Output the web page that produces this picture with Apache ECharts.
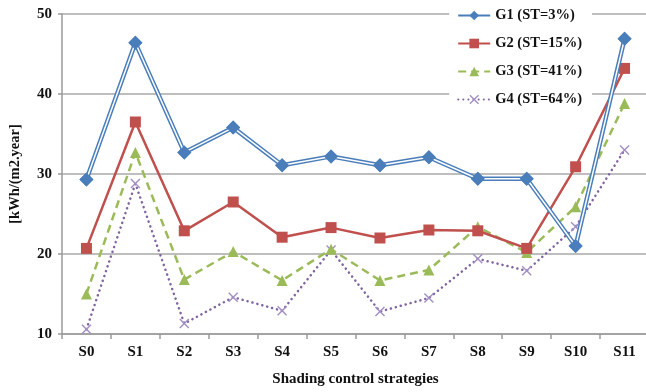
<!DOCTYPE html>
<html><head><meta charset="utf-8">
<script src="https://cdn.jsdelivr.net/npm/echarts@6/dist/echarts.min.js"></script>
<style>html,body{margin:0;padding:0;background:#fff;overflow:hidden;width:646px;height:392px}#c{width:649px;height:392px}</style>
</head><body><div id="c"></div>
<script>
const categories = ['S0','S1','S2','S3','S4','S5','S6','S7','S8','S9','S10','S11'];
const seriesNames = ['G1 (ST=3%)','G2 (ST=15%)','G3 (ST=41%)','G4 (ST=64%)'];
const g1 = [29.3, 46.4, 32.7, 35.8, 31.1, 32.2, 31.1, 32.1, 29.4, 29.4, 21.0, 46.9];
const g2 = [20.7, 36.5, 22.9, 26.5, 22.1, 23.3, 22.0, 23.0, 22.9, 20.7, 30.9, 43.2];
const g3 = [15.0, 32.7, 16.8, 20.3, 16.7, 20.6, 16.7, 18.0, 23.4, 20.2, 25.9, 38.8];
const g4 = [10.6, 28.8, 11.3, 14.6, 12.9, 20.5, 12.8, 14.5, 19.4, 17.9, 23.4, 33.0];
const yTicks = [10, 20, 30, 40, 50];

const font = '"Liberation Serif","Times New Roman",serif';
const crossPath = 'path://M0,1L1,0L5,4L9,0L10,1L6,5L10,9L9,10L5,6L1,10L0,9L4,5Z';
const chart = echarts.init(document.getElementById('c'));
chart.setOption({
  animation: false,
  backgroundColor: '#fff',
  grid: { left: 60, right: 0, top: 14, bottom: 54 },
  legend: {
    data: seriesNames,
    right: 57, top: 2, orient: 'vertical',
    backgroundColor: '#fff', padding: [6, 10, 6, 8],
    itemWidth: 32, itemHeight: 12, itemGap: 13,
    textStyle: { fontFamily: font, fontWeight: 'bold', fontSize: 14.5, color: '#111' }
  },
  xAxis: {
    type: 'category', data: categories, boundaryGap: true,
    name: 'Shading control strategies', nameLocation: 'middle', nameGap: 38,
    nameTextStyle: { fontFamily: font, fontWeight: 'bold', fontSize: 15, color: '#111' },
    axisLine: { lineStyle: { color: '#9a9a9a', width: 1.5 } },
    axisTick: { show: true, inside: false, length: 5, lineStyle: { color: '#9a9a9a', width: 1.5 } },
    axisLabel: { margin: 11, fontFamily: font, fontWeight: 'bold', fontSize: 15, color: '#111' }
  },
  yAxis: {
    type: 'value', min: 10, max: 50, interval: 10,
    name: '[kWh/(m2.year]', nameLocation: 'middle', nameGap: 39, nameRotate: 90,
    nameTextStyle: { fontFamily: font, fontWeight: 'bold', fontSize: 14.5, color: '#111' },
    axisLine: { show: true, lineStyle: { color: '#9a9a9a', width: 1.5 } },
    axisTick: { show: true, length: 4, lineStyle: { color: '#9a9a9a', width: 1.5 } },
    axisLabel: { margin: 10, fontFamily: font, fontWeight: 'bold', fontSize: 15, color: '#111',
      formatter: v => yTicks.includes(v) ? String(v) : '' },
    splitLine: { lineStyle: { color: '#a8a8a8', width: 1.5 } }
  },
  series: [
    { name: seriesNames[0], type: 'line', data: g1, z: 5,
      symbol: 'diamond', symbolSize: 14, showAllSymbol: true,
      itemStyle: { color: '#4a7ebb' },
      lineStyle: { color: '#4a7ebb', width: 4.5 } },
    { name: 'g1inner', type: 'line', data: g1, z: 6,
      symbol: 'diamond', symbolSize: 14, showAllSymbol: true,
      itemStyle: { color: '#4a7ebb' },
      lineStyle: { color: '#ffffff', width: 1.5 }, legendHoverLink: false },
    { name: seriesNames[1], type: 'line', data: g2, z: 4,
      symbol: 'rect', symbolSize: 11,
      itemStyle: { color: '#c0504d' },
      lineStyle: { color: '#c0504d', width: 2.5 } },
    { name: seriesNames[2], type: 'line', data: g3, z: 3,
      symbol: 'triangle', symbolSize: 11,
      itemStyle: { color: '#9bbb59' },
      lineStyle: { color: '#9bbb59', width: 2.5, type: [8, 5] } },
    { name: seriesNames[3], type: 'line', data: g4, z: 2,
      symbol: crossPath, symbolSize: 10,
      itemStyle: { color: '#a28fc4' },
      lineStyle: { color: '#8064a2', width: 2.5, type: [0.1, 5], cap: 'round' } }
  ]
});
</script></body></html>
